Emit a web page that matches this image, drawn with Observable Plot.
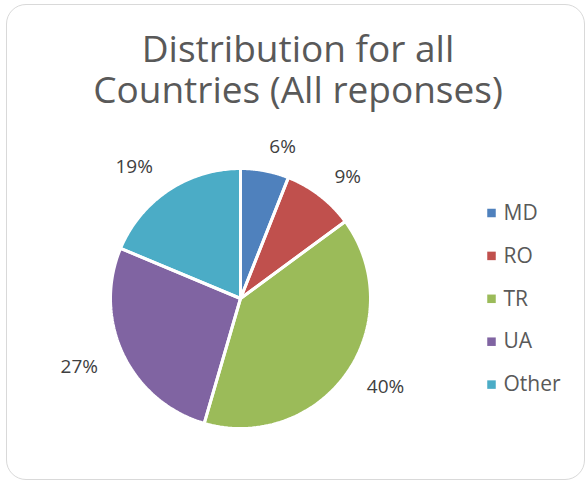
<!DOCTYPE html>
<html>
<head>
<meta charset="utf-8">
<script src="https://cdn.jsdelivr.net/npm/d3@7"></script>
<script src="https://cdn.jsdelivr.net/npm/@observablehq/plot@0.6"></script>
<style>
  html, body { margin: 0; padding: 0; background: #fff; }
  #wrap { position: relative; width: 587px; height: 482px; overflow: hidden; font-family: "Open Sans", sans-serif; }
  #frame { position: absolute; left: 6px; top: 4px; width: 579px; height: 476px; border: 1.5px solid #d9d9d9; border-radius: 20px; box-sizing: border-box; }
  .tline { position: absolute; left: 0; width: 596px; text-align: center; color: #595959; font-size: 37px; line-height: 37px; height: 37px; white-space: nowrap; }
  #chart { position: absolute; left: 0; top: 0; }
</style>
</head>
<body>
<div id="wrap">
  <div id="frame"></div>
  <div id="chart"></div>
  <div id="title"></div>
</div>
<script>
const titleLines = ["Distribution for all", "Countries (All reponses)"];
const categories = ["MD", "RO", "TR", "UA", "Other"];
const values = [6.0, 8.9, 39.6, 26.8, 18.7];
const percentLabels = ["6%", "9%", "40%", "27%", "19%"];
const colors = ["#4f81bd", "#c0504d", "#9bbb59", "#8064a2", "#4bacc6"];

const W = 587, H = 482;
const cx = 240, cy = 298, R = 130;

// title lines
const titleEl = document.getElementById("title");
titleLines.forEach((t, i) => {
  const div = document.createElement("div");
  div.className = "tline";
  div.style.top = (29 + i * 41) + "px";
  div.textContent = t;
  titleEl.appendChild(div);
});

const arcs = d3.pie().sort(null).value(d => d)(values);

// slice polygons
const sliceRows = [];
arcs.forEach((a, i) => {
  const cat = categories[i];
  sliceRows.push({category: cat, x: cx, y: cy});
  const n = 80;
  for (let k = 0; k <= n; k++) {
    const t = a.startAngle + (a.endAngle - a.startAngle) * k / n;
    sliceRows.push({category: cat, x: cx + R * Math.sin(t), y: cy - R * Math.cos(t)});
  }
  sliceRows.push({category: cat, x: cx, y: cy});
});

// outside-end labels: anchored on the slice mid-angle, text extends away from the pie
const labelRows = arcs.map((a, i) => {
  const m = (a.startAngle + a.endAngle) / 2;
  const s = Math.sin(m);
  const d = R + (s >= 0 ? 24 : 28);
  return {
    text: percentLabels[i],
    x: cx + d * s,
    y: cy - d * Math.cos(m),
    anchor: s >= 0 ? "start" : "end"
  };
});
const labelsRight = labelRows.filter(d => d.anchor === "start");
const labelsLeft = labelRows.filter(d => d.anchor === "end");

// legend
const legendRows = categories.map((c, i) => ({category: c, x: 491, tx: 503, y: 212.5 + i * 42.9}));

const chart = Plot.plot({
  width: W, height: H,
  margin: 0,
  x: {domain: [0, W], range: [0, W], axis: null},
  y: {domain: [0, H], range: [0, H], axis: null},
  color: {domain: categories, range: colors},
  style: {fontFamily: "Open Sans, sans-serif", background: "transparent"},
  marks: [
    Plot.line(sliceRows, {x: "x", y: "y", z: "category", fill: "category", stroke: "none", curve: "linear"}),
    Plot.line(sliceRows, {x: "x", y: "y", z: "category", stroke: "white", strokeWidth: 3, strokeLinejoin: "miter", curve: "linear"}),
    Plot.text(labelsRight, {x: "x", y: "y", text: "text", textAnchor: "start", fill: "#404040", fontSize: 19}),
    Plot.text(labelsLeft, {x: "x", y: "y", text: "text", textAnchor: "end", fill: "#404040", fontSize: 19}),
    Plot.dot(legendRows, {x: "x", y: "y", fill: "category", symbol: "square", r: 4.8, stroke: null}),
    Plot.text(legendRows, {x: "tx", y: "y", text: "category", textAnchor: "start", fill: "#595959", fontSize: 21})
  ]
});
document.getElementById("chart").appendChild(chart);
</script>
</body>
</html>
